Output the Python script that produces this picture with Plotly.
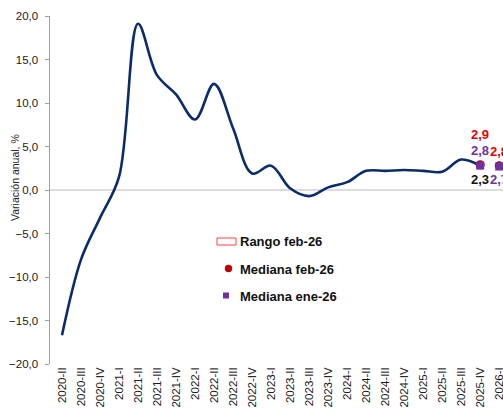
import plotly.graph_objects as go

categories = ["2020-II", "2020-III", "2020-IV", "2021-I", "2021-II", "2021-III", "2021-IV",
              "2022-I", "2022-II", "2022-III", "2022-IV", "2023-I", "2023-II", "2023-III",
              "2023-IV", "2024-I", "2024-II", "2024-III", "2024-IV", "2025-I", "2025-II",
              "2025-III", "2025-IV", "2026-I"]

observed = [-16.7, -8.0, -3.2, 1.5, 19.1, 13.2, 11.0, 8.1, 12.2, 7.1, 1.9, 2.8,
            0.2, -0.7, 0.3, 0.9, 2.2, 2.2, 2.3, 2.2, 2.1, 3.5, 2.8]

forecast_cats = ["2025-IV", "2026-I"]
mediana_feb26 = [2.9, 2.8]
mediana_ene26 = [2.8, 2.7]
rango_min_label = 2.3

FONT = "Liberation Sans, Arial, sans-serif"
NAVY = "#0a2c6b"
RED = "#c00000"
RED_TXT = "#e60000"
PURPLE = "#7030a0"

W, H = 503, 413
ML, MR, MT, MB = 50, 0, 16, 49
PW, PH = W - ML - MR, H - MT - MB


def px(x):
    return (x - ML) / PW


def py(y):
    return (H - MB - y) / PH


def fmt(v):
    return f"{v:.1f}".replace(".", ",")


fig = go.Figure()

fig.add_trace(go.Scatter(
    x=categories[:len(observed)], y=observed, mode="lines",
    line=dict(color=NAVY, width=2.6, shape="spline", smoothing=1.0),
    showlegend=False, hoverinfo="skip"))

fig.add_trace(go.Scatter(
    x=forecast_cats, y=mediana_feb26, mode="markers",
    marker=dict(symbol="circle", size=9, color=RED),
    showlegend=False, hoverinfo="skip"))

fig.add_trace(go.Scatter(
    x=forecast_cats, y=mediana_ene26, mode="markers",
    marker=dict(symbol="square", size=8, color=PURPLE),
    showlegend=False, hoverinfo="skip"))

annotations = []
lab_font = dict(family=FONT, size=13)
# labels at 2025-IV
annotations.append(dict(x=forecast_cats[0], y=mediana_feb26[0], text=f"<b>{fmt(mediana_feb26[0])}</b>",
                        showarrow=False, yshift=30, font=dict(color=RED_TXT, **lab_font)))
annotations.append(dict(x=forecast_cats[0], y=mediana_ene26[0], text=f"<b>{fmt(mediana_ene26[0])}</b>",
                        showarrow=False, yshift=15, font=dict(color=PURPLE, **lab_font)))
annotations.append(dict(x=forecast_cats[0], y=mediana_ene26[0], text=f"<b>{fmt(rango_min_label)}</b>",
                        showarrow=False, yshift=-14, font=dict(color="#111111", **lab_font)))
# labels at 2026-I
annotations.append(dict(x=forecast_cats[1], y=mediana_feb26[1], text=f"<b>{fmt(mediana_feb26[1])}</b>",
                        showarrow=False, yshift=14, font=dict(color=RED_TXT, **lab_font)))
annotations.append(dict(x=forecast_cats[1], y=mediana_ene26[1], text=f"<b>{fmt(mediana_ene26[1])}</b>",
                        showarrow=False, yshift=-13, font=dict(color=PURPLE, **lab_font)))

# y-axis title
annotations.append(dict(xref="paper", yref="paper", x=px(15), y=py(178), text="Variación anual, %",
                        textangle=-90, showarrow=False, xanchor="center", yanchor="middle",
                        font=dict(family=FONT, size=10.5, color="#222222")))

# manual legend
leg_font = dict(family=FONT, size=13, color="#111111")
legend_items = ["Rango feb-26", "Mediana feb-26", "Mediana ene-26"]
legend_y = [241.5, 269, 296]
for name, yy in zip(legend_items, legend_y):
    annotations.append(dict(xref="paper", yref="paper", x=px(238), y=py(yy), text=f"<b>{name}</b>",
                            showarrow=False, xanchor="left", yanchor="middle", font=leg_font))

shapes = [
    dict(type="rect", xref="paper", yref="paper", x0=px(217), x1=px(236), y0=py(245), y1=py(238),
         line=dict(color="#ff4040", width=1), fillcolor="white"),
    dict(type="circle", xref="paper", yref="paper", x0=px(224.8), x1=px(232.2), y0=py(272.2), y1=py(264.8),
         line=dict(color=RED, width=0), fillcolor=RED),
    dict(type="rect", xref="paper", yref="paper", x0=px(223), x1=px(229), y0=py(298.5), y1=py(292.5),
         line=dict(color=PURPLE, width=0), fillcolor=PURPLE),
]

fig.update_layout(
    width=W, height=H, autosize=False,
    margin=dict(l=ML, r=MR, t=MT, b=MB, pad=0, autoexpand=False),
    paper_bgcolor="white", plot_bgcolor="white",
    separators=",.",
    showlegend=False,
    hovermode=False,
    annotations=annotations,
    shapes=shapes,
    font=dict(family=FONT, color="#1a1a1a"),
)

fig.update_xaxes(
    type="category", categoryorder="array", categoryarray=categories,
    range=[-0.63, 23.2], showline=False, showgrid=False, zeroline=False,
    ticks="", tickangle=-90, tickfont=dict(family=FONT, size=11.5, color="#1a1a1a"),
    tickvals=categories, ticktext=categories, automargin=False,
)

fig.update_yaxes(
    range=[-20, 20], dtick=5, tick0=0, tickformat=".1f",
    showline=True, linecolor="#a0a0a0", linewidth=1.5,
    ticks="outside", ticklen=4, tickcolor="#a0a0a0", tickwidth=1,
    showgrid=False, zeroline=True, zerolinecolor="#dcdcdc", zerolinewidth=1.5,
    tickfont=dict(family=FONT, size=11.5, color="#1a1a1a"),
    ticklabelstandoff=4, automargin=False,
)

fig.write_html("out.html", config={"displayModeBar": False, "staticPlot": True},
               post_script="document.body.style.margin='0';document.body.style.overflow='hidden';")
